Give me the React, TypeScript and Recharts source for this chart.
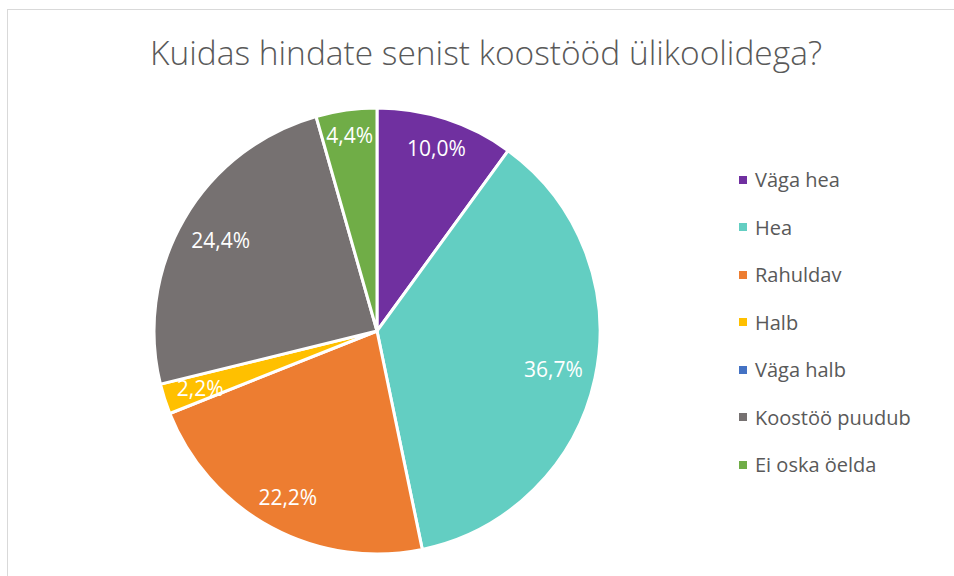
import React from "react";
import { PieChart, Pie, Cell, Legend } from "recharts";

const categories = ["Väga hea", "Hea", "Rahuldav", "Halb", "Väga halb", "Koostöö puudub", "Ei oska öelda"];
const values = [10.0, 36.7, 22.2, 2.2, 0.0, 24.4, 4.4];
const colors = ["#7030A0", "#63CEC2", "#ED7D31", "#FFC000", "#4472C4", "#767171", "#70AD47"];
const title = "Kuidas hindate senist koostööd ülikoolidega?";

const data = categories.map((name, i) => ({ name, value: values[i] }));
const RAD = Math.PI / 180;
const FONT = "'Open Sans', 'Noto Sans', sans-serif";
const LABEL_SIZE = 21;

// "best fit"-like placement: keep the label box just inside the rim
const renderLabel = (props: any) => {
  const { cx, cy, midAngle, outerRadius, value } = props;
  if (!value) return null;
  const text = value.toFixed(1).replace(".", ",") + "%";
  const halfW = (text.length * 0.55 * LABEL_SIZE) / 2;
  const halfH = 10;
  const c = Math.cos(-midAngle * RAD);
  const s = Math.sin(-midAngle * RAD);
  const r = outerRadius * 0.945 - halfW * Math.abs(c) - halfH * Math.abs(s);
  const x = cx + r * c;
  const y = cy + r * s;
  return (
    <text x={x} y={y} fill="#FFFFFF" fontSize={LABEL_SIZE} fontFamily={FONT} textAnchor="middle" dominantBaseline="central">
      {text}
    </text>
  );
};

const renderLegend = () => {
  return (
    <div>
      {categories.map((name, i) => (
        <div key={name} style={{ display: "flex", alignItems: "center", height: 47.5 }}>
          <span style={{ display: "inline-block", width: 8, height: 8, background: colors[i], marginRight: 8 }} />
          <span style={{ fontFamily: FONT, fontSize: 20, color: "#595959" }}>{name}</span>
        </div>
      ))}
    </div>
  );
};

export default function App() {
  return (
    <div style={{ position: "fixed", left: 0, top: 0, width: 954, height: 576, overflow: "hidden", background: "#fff" }}>
      <div style={{ position: "absolute", left: 7, top: 9, width: 1000, height: 700, border: "1px solid #D9D9D9", boxSizing: "border-box" }} />
      <div style={{ position: "absolute", left: 0, top: 0 }}>
        <PieChart width={954} height={576} margin={{ top: 0, right: 0, bottom: 0, left: 0 }}>
          <text
            x={486}
            y={65}
            textAnchor="middle"
            fontFamily={FONT}
            fontSize={33}
            fontWeight={300}
            fill="#595959"
            textLength={672}
            lengthAdjust="spacingAndGlyphs"
          >
            {title}
          </text>
          <Pie
            data={data}
            dataKey="value"
            nameKey="name"
            cx={377}
            cy={331}
            outerRadius={223}
            startAngle={90}
            endAngle={-270}
            stroke="#FFFFFF"
            strokeWidth={3}
            label={renderLabel}
            labelLine={false}
            isAnimationActive={false}
          >
            {data.map((d, i) => (
              <Cell key={d.name} fill={colors[i]} />
            ))}
          </Pie>
          <Legend
            layout="vertical"
            align="right"
            verticalAlign="top"
            content={renderLegend}
            wrapperStyle={{ left: 739, top: 156, width: 215 }}
          />
        </PieChart>
      </div>
    </div>
  );
}
